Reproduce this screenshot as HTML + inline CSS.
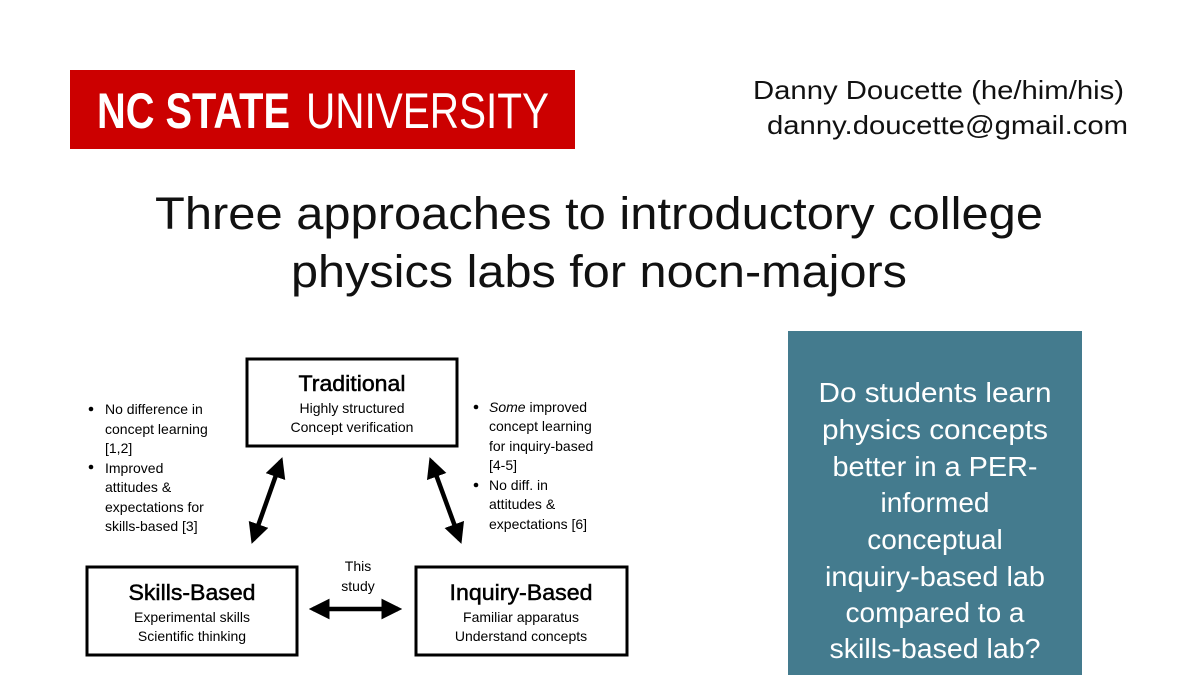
<!DOCTYPE html>
<html><head><meta charset="utf-8"><style>
html,body{margin:0;padding:0;background:#fff;width:1200px;height:675px;overflow:hidden}
svg text{font-family:"Liberation Sans",sans-serif}
</style></head><body>
<svg width="1200" height="675" viewBox="0 0 1200 675" xmlns="http://www.w3.org/2000/svg">
<defs>
<marker id="ah" viewBox="0 0 10 10" refX="8" refY="5" markerWidth="4.6" markerHeight="4.6" orient="auto-start-reverse"><path d="M0,0 L10,5 L0,10 z" fill="#000"/></marker>
</defs>
<rect x="70" y="70" width="505" height="79" fill="#cc0000"/>
<text x="97" y="128" font-size="50" font-weight="bold" fill="#fff" textLength="193" lengthAdjust="spacingAndGlyphs">NC STATE</text>
<text x="306" y="128" font-size="50" fill="#fff" textLength="243" lengthAdjust="spacingAndGlyphs">UNIVERSITY</text>

<text x="753" y="99" font-size="26" fill="#111" textLength="371" lengthAdjust="spacingAndGlyphs">Danny Doucette (he/him/his)</text>
<text x="767" y="134" font-size="26" fill="#111" textLength="361" lengthAdjust="spacingAndGlyphs">danny.doucette@gmail.com</text>

<text x="155" y="229" font-size="45" fill="#111" textLength="888" lengthAdjust="spacingAndGlyphs">Three approaches to introductory college</text>
<text x="291" y="287" font-size="45" fill="#111" textLength="616" lengthAdjust="spacingAndGlyphs">physics labs for nocn-majors</text>

<g fill="none" stroke="#000" stroke-width="3">
<rect x="247" y="359" width="210" height="87"/>
<rect x="87" y="567" width="210" height="88"/>
<rect x="416" y="567" width="211" height="88"/>
</g>
<g stroke="#000" stroke-width="4.5" marker-start="url(#ah)" marker-end="url(#ah)">
<line x1="281" y1="461" x2="253" y2="540"/>
<line x1="431" y1="461" x2="460" y2="540"/>
<line x1="313" y1="609" x2="398" y2="609"/>
</g>
<g fill="#000" text-anchor="middle">
<g stroke="#000" stroke-width="0.5">
<text x="352" y="391" font-size="22" textLength="107" lengthAdjust="spacingAndGlyphs">Traditional</text>
<text x="192" y="600" font-size="22" textLength="127" lengthAdjust="spacingAndGlyphs">Skills-Based</text>
<text x="521" y="600" font-size="22" textLength="143" lengthAdjust="spacingAndGlyphs">Inquiry-Based</text>
</g>
<text x="352" y="413" font-size="14">Highly structured</text>
<text x="352" y="432" font-size="14">Concept verification</text>
<text x="192" y="622" font-size="14">Experimental skills</text>
<text x="192" y="641" font-size="14">Scientific thinking</text>
<text x="521" y="622" font-size="14">Familiar apparatus</text>
<text x="521" y="641" font-size="14">Understand concepts</text>
<text x="358" y="571" font-size="14">This</text>
<text x="358" y="591" font-size="14">study</text>
</g>
<g fill="#000" font-size="14">
<circle cx="91" cy="409" r="2.3"/><circle cx="91" cy="467" r="2.3"/>
<text x="105" y="414">No difference in</text>
<text x="105" y="434">concept learning</text>
<text x="105" y="453">[1,2]</text>
<text x="105" y="473">Improved</text>
<text x="105" y="492">attitudes &amp;</text>
<text x="105" y="512">expectations for</text>
<text x="105" y="531">skills-based [3]</text>
<circle cx="476" cy="407" r="2.3"/><circle cx="476" cy="485" r="2.3"/>
<text x="489" y="412"><tspan font-style="italic">Some</tspan> improved</text>
<text x="489" y="431">concept learning</text>
<text x="489" y="451">for inquiry-based</text>
<text x="489" y="470">[4-5]</text>
<text x="489" y="490">No diff. in</text>
<text x="489" y="509">attitudes &amp;</text>
<text x="489" y="529">expectations [6]</text>
</g>

<rect x="788" y="331" width="294" height="344" fill="#447b8e"/>
<g fill="#fff" font-size="28" text-anchor="middle">
<text x="935" y="402" textLength="233" lengthAdjust="spacingAndGlyphs">Do students learn</text>
<text x="935" y="439" textLength="226" lengthAdjust="spacingAndGlyphs">physics concepts</text>
<text x="935" y="476" textLength="205" lengthAdjust="spacingAndGlyphs">better in a PER-</text>
<text x="935" y="512">informed</text>
<text x="935" y="549">conceptual</text>
<text x="935" y="586" textLength="220" lengthAdjust="spacingAndGlyphs">inquiry-based lab</text>
<text x="935" y="622">compared to a</text>
<text x="935" y="658" textLength="211" lengthAdjust="spacingAndGlyphs">skills-based lab?</text>
</g>
</svg>
</body></html>
